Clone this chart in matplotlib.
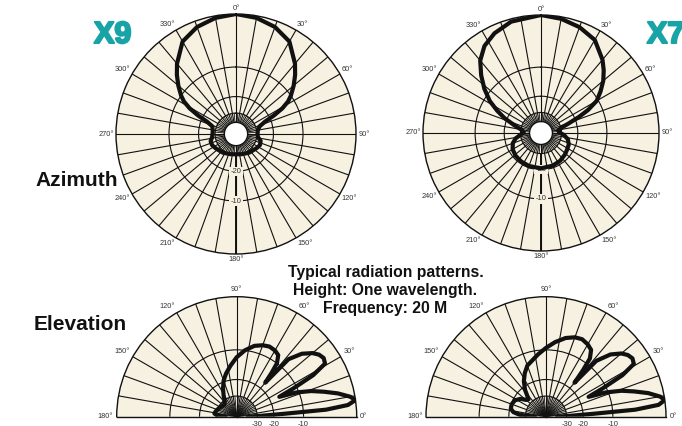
import numpy as np
import matplotlib.pyplot as plt
from matplotlib import patheffects

plt.rcParams['font.family'] = ['Liberation Sans', 'DejaVu Sans']

W, H = 682, 426
BEIGE = '#f7f1e1'
TEAL = '#18a4a6'
INK = '#111111'
GREY = '#333333'

# azimuth patterns: degrees clockwise from the boom direction, dB
x9_az_deg = [0, 10, 20, 30, 40, 45, 50, 55, 58, 61, 64, 67, 72, 80, 90, 98, 106, 115, 125,
             135, 145, 155, 165, 180, 195, 205, 215, 225, 235, 245, 254, 262, 270, 278,
             288, 293, 296, 299, 302, 305, 310, 315, 320, 330, 340, 350, 360]
x9_az_db = [0, -0.3, -0.9, -2.0, -4.6, -6.2, -8.0, -10.0, -11.5, -14, -18, -23, -27, -29,
            -29.5, -29, -26.5, -26, -27, -28, -28.5, -29.5, -30, -30.5, -30, -29.5, -28.5,
            -28, -27, -26, -26, -27.5, -28, -28, -27, -23, -18, -14, -11.5, -10, -8.0,
            -6.2, -4.6, -2.0, -0.9, -0.3, 0]

x7_az_deg = [0, 10, 20, 30, 40, 45, 50, 55, 60, 64, 67, 71, 76, 82, 88, 95, 103, 112, 122,
             132, 145, 160, 180, 200, 215, 228, 240, 250, 258, 265, 272, 279, 286, 292,
             297, 302, 308, 314, 320, 327, 335, 345, 360]
x7_az_db = [0, -0.3, -0.8, -1.6, -3.6, -4.9, -6.4, -8.3, -10.4, -14, -18, -24, -30, -33,
            -32, -28, -25, -23.5, -23, -22.3, -21.5, -21, -20.7, -20.8, -21, -21.3, -22,
            -23.5, -26, -30, -33, -31, -25, -19, -15, -11.5, -8.5, -6.0, -3.8, -2.2, -1.2,
            -0.4, 0]

# elevation patterns: degrees above the horizon, dB
el_deg = [0, 2, 3.5, 4.5, 6, 8, 10, 13, 16, 19, 22, 25, 26.5, 28.5, 31, 34, 37, 40, 44,
          48, 50, 51.5, 53, 56, 60, 65, 70, 76, 83, 90, 97, 104, 110, 116, 122, 128, 135,
          140, 145, 152, 160, 167, 172, 176, 180]
x9_el_db = [-40, -28, -16, -5, -1.2, 0, -0.7, -2.5, -4.8, -7.2, -10.5, -16, -11, -5.5,
            -2.6, -2.3, -2.6, -3.3, -4.8, -7.5, -17, -13, -10, -8.2, -7.7, -7.5, -7.8,
            -8.5, -10, -12, -14.5, -17, -19.5, -23, -27, -31, -33, -33, -32, -31, -30,
            -29, -28.5, -31, -40]
x7_el_db = [-40, -28, -16, -5, -1.0, 0, -0.6, -2.3, -4.6, -7, -10.5, -16, -11, -5.5,
            -2.7, -2.4, -2.7, -3.4, -5, -8, -17, -12, -8.5, -6.8, -6.2, -5.8, -6.0, -6.7,
            -8, -9.5, -11, -12.5, -13.5, -15.5, -18, -21.5, -27, -26, -23, -21, -20.3,
            -20.5, -22, -26, -40]

rings = [-30, -20, -10]


def db_to_r(d):
    # ARRL log-periodic scale: 2 dB per 0.89 of radius
    return np.power(0.89, -np.asarray(d, float) / 2.0)


def r_to_db(r):
    r = np.clip(np.asarray(r, float), 1e-12, None)
    return -2.0 * np.log(r) / np.log(0.89)


fig = plt.figure(figsize=(W / 100, H / 100), dpi=100)


def polar_at(cx, cy, R, half=False):
    up = H - cy
    bottom = up - R / 2 if half else up - R
    ax = fig.add_axes([(cx - R) / W, bottom / H, 2 * R / W, 2 * R / H], projection='polar')
    ax.set_rscale('function', functions=(db_to_r, r_to_db))
    ax.set_facecolor(BEIGE)
    ax.grid(True, color=INK, lw=0.8)
    for sp in ax.spines.values():
        sp.set_color(INK)
        sp.set_linewidth(1.0)
    ax.tick_params(axis='both', length=0)
    return ax


def angle_labels(ax, degs, to_dir, gap=1.6):
    # small degree labels just outside the rim
    for d in degs:
        ux, uy = to_dir(np.radians(d))
        ha = 'left' if ux > 0.3 else ('right' if ux < -0.3 else 'center')
        va = 'bottom' if uy > 0.3 else ('top' if uy < -0.3 else 'center')
        ax.annotate(f'{d}°', xy=(np.radians(d), 0), xytext=(gap * ux, gap * uy),
                    textcoords='offset points', ha=ha, va=va, fontsize=5.3,
                    color=GREY, annotation_clip=False)


def azimuth(cx, cy, R, deg, db):
    ax = polar_at(cx, cy, R)
    ax.set_theta_zero_location('N')
    ax.set_theta_direction(-1)
    ax.set_ylim(-40, 0)
    ax.set_rorigin(-200)
    ax.set_xticks(np.radians(np.arange(0, 360, 10)))
    ax.set_xticklabels([])
    ax.set_yticks(rings)
    ax.set_yticklabels([])
    for d in range(5, 360, 10):
        ax.plot([np.radians(d)] * 2, [-40, -30], color=INK, lw=0.6, zorder=1.5)
    ax.plot([np.pi, np.pi], [-30, 0], color=INK, lw=1.4, zorder=1.6)
    for v in (-20, -10):
        ax.text(np.pi, v, str(v), ha='center', va='center', fontsize=5.5, color=GREY,
                bbox=dict(boxstyle='square,pad=0.15', fc=BEIGE, ec='none'), zorder=3)
    angle_labels(ax, range(0, 360, 30), lambda t: (np.sin(t), np.cos(t)))
    ax.plot(np.radians(deg), db, color=INK, lw=3.0, solid_joinstyle='round', zorder=5)
    return ax


def elevation(cx, cy, R, db):
    ax = polar_at(cx, cy, R, half=True)
    ax.set_thetamin(0)
    ax.set_thetamax(180)
    ax.set_ylim(-100, 0)
    ax.set_xticks(np.radians(np.arange(0, 190, 10)))
    ax.set_xticklabels([])
    ax.set_yticks(rings)
    ax.set_yticklabels([str(v) for v in rings])
    ax.tick_params(axis='y', labelsize=5.5, labelcolor=GREY, pad=3)
    for d in range(5, 180, 10):
        ax.plot([np.radians(d)] * 2, [-100, -30], color=INK, lw=0.6, zorder=1.5)
    angle_labels(ax, range(0, 181, 30), lambda t: (np.cos(t), np.sin(t)), gap=2.5)
    ax.plot(np.radians(el_deg), db, color=INK, lw=3.0, solid_joinstyle='round', zorder=5)
    return ax


azimuth(236, 134, 120, x9_az_deg, x9_az_db)
azimuth(541, 133, 118, x7_az_deg, x7_az_db)
elevation(236.7, 416.7, 120, x9_el_db)
elevation(546, 416.7, 120, x7_el_db)

heavy = [patheffects.withStroke(linewidth=1.5, foreground=TEAL)]
fig.text(94 / W, 1 - 43 / H, 'X9', fontsize=22, fontweight='bold', color=TEAL,
         ha='left', va='baseline', path_effects=heavy)
fig.text(647 / W, 1 - 43 / H, 'X7', fontsize=22, fontweight='bold', color=TEAL,
         ha='left', va='baseline', path_effects=heavy)

fig.text(35 / W, 1 - 186 / H, 'Azimuth', fontsize=15, fontweight='bold', color=INK,
         ha='left', va='baseline')
fig.text(34 / W, 1 - 330 / H, 'Elevation', fontsize=15, fontweight='bold', color=INK,
         ha='left', va='baseline')

title_lines = ['Typical radiation patterns.', 'Height: One wavelength.', 'Frequency: 20 M']
for i, line in enumerate(title_lines):
    fig.text(385.5 / W, 1 - (277.5 + 18 * i) / H, line, fontsize=11.3, fontweight='bold',
             color=INK, ha='center', va='baseline')

fig.savefig('out.png', dpi=100)
